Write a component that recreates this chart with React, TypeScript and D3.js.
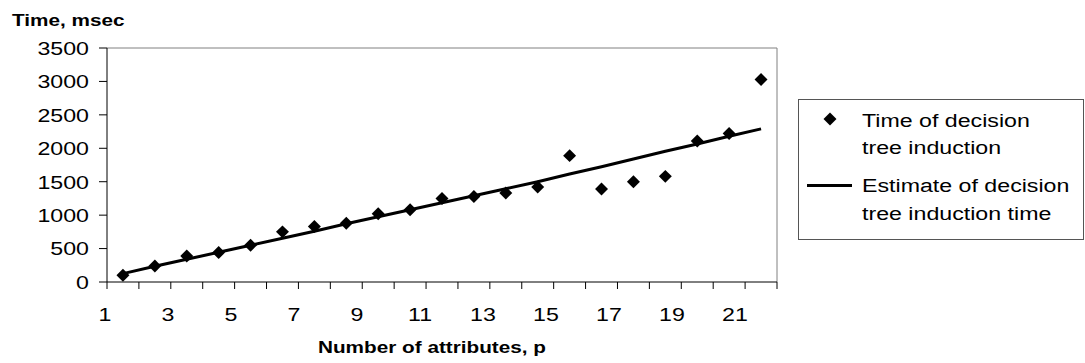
import React from "react";
import * as d3 from "d3";

const pValues = [1.5, 2.5, 3.5, 4.5, 5.5, 6.5, 7.5, 8.5, 9.5, 10.5, 11.5, 12.5, 13.5, 14.5, 15.5, 16.5, 17.5, 18.5, 19.5, 20.5, 21.5];
const inductionTime = [100, 240, 390, 440, 550, 750, 830, 880, 1020, 1080, 1250, 1280, 1330, 1420, 1890, 1390, 1500, 1580, 2110, 2220, 3030];
const estimateTime = [125, 235, 340, 445, 550, 655, 760, 870, 975, 1080, 1185, 1290, 1395, 1500, 1615, 1725, 1840, 1955, 2065, 2180, 2290];
const yTicks = [0, 500, 1000, 1500, 2000, 2500, 3000, 3500];
const xTickValues = [1, 2, 3, 4, 5, 6, 7, 8, 9, 10, 11, 12, 13, 14, 15, 16, 17, 18, 19, 20, 21, 22];
const xLabels = [1, 3, 5, 7, 9, 11, 13, 15, 17, 19, 21];

const FONT = "'Liberation Sans', Arial, Helvetica, sans-serif";
const SX = 1.22;

export default function App() {
  const left = 107, right = 777, top = 48, bottom = 282;
  const x = d3.scaleLinear().domain([1, 22]).range([left, right]);
  const xLab = d3.scaleLinear().domain([1, 21]).range([105, 735]);
  const y = d3.scaleLinear().domain([0, 3500]).range([bottom, top]);

  const line = d3
    .line<number>()
    .x((_, i) => x(pValues[i]))
    .y((d) => y(d));
  const diamond = d3.symbol().type(d3.symbolSquare).size(84)();

  const T = (props: { x: number; y: number; anchor?: string; size: number; bold?: boolean; children: React.ReactNode }) => (
    <g transform={`translate(${props.x},${props.y}) scale(${SX},1)`}>
      <text
        textAnchor={props.anchor || "start"}
        fontSize={props.size}
        fontWeight={props.bold ? "bold" : "normal"}
        fontFamily={FONT}
        fill="#000"
      >
        {props.children}
      </text>
    </g>
  );

  return (
    <svg width={1085} height={363} style={{ position: "absolute", left: 0, top: 0, background: "#fff" }}>
      <rect x={0} y={0} width={1085} height={363} fill="#fff" />
      {/* plot border top/right */}
      <line x1={left} x2={right} y1={top} y2={top} stroke="#808080" strokeWidth={1} />
      <line x1={right} x2={right} y1={top} y2={bottom} stroke="#808080" strokeWidth={1} />
      {/* axes */}
      <line x1={left} x2={left} y1={top} y2={bottom} stroke="#000" strokeWidth={1} />
      <line x1={left} x2={right} y1={bottom} y2={bottom} stroke="#000" strokeWidth={1} />
      {yTicks.map((t) => (
        <g key={"y" + t}>
          <line x1={left - 8} x2={left} y1={y(t)} y2={y(t)} stroke="#000" strokeWidth={1} />
          <T x={89} y={y(t) + 6.8} anchor="end" size={19}>
            {t}
          </T>
        </g>
      ))}
      {xTickValues.map((t) => (
        <line key={"xt" + t} x1={x(t)} x2={x(t)} y1={bottom} y2={bottom + 7} stroke="#000" strokeWidth={1} />
      ))}
      {xLabels.map((t) => (
        <T key={"xl" + t} x={xLab(t)} y={321} anchor="middle" size={19}>
          {t}
        </T>
      ))}
      <T x={12} y={26} size={17} bold>
        Time, msec
      </T>
      <T x={432} y={353} anchor="middle" size={17} bold>
        Number of attributes, p
      </T>

      {/* estimate line */}
      <path d={line(estimateTime) || ""} fill="none" stroke="#000" strokeWidth={3} />
      {/* points */}
      {inductionTime.map((v, i) => (
        <path key={"p" + i} d={diamond || ""} transform={`translate(${x(pValues[i])},${y(v)}) rotate(45)`} fill="#000" />
      ))}

      {/* legend */}
      <rect x={798.5} y={99.5} width={285} height={140} fill="#fff" stroke="#555" strokeWidth={1} />
      <path d={diamond || ""} transform="translate(830,119) rotate(45)" fill="#000" />
      <T x={862} y={127} size={19}>Time of decision</T>
      <T x={862} y={154} size={19}>tree induction</T>
      <line x1={807} x2={852} y1={185.5} y2={185.5} stroke="#000" strokeWidth={3} />
      <T x={862} y={192} size={19}>Estimate of decision</T>
      <T x={862} y={220} size={19}>tree induction time</T>
    </svg>
  );
}
